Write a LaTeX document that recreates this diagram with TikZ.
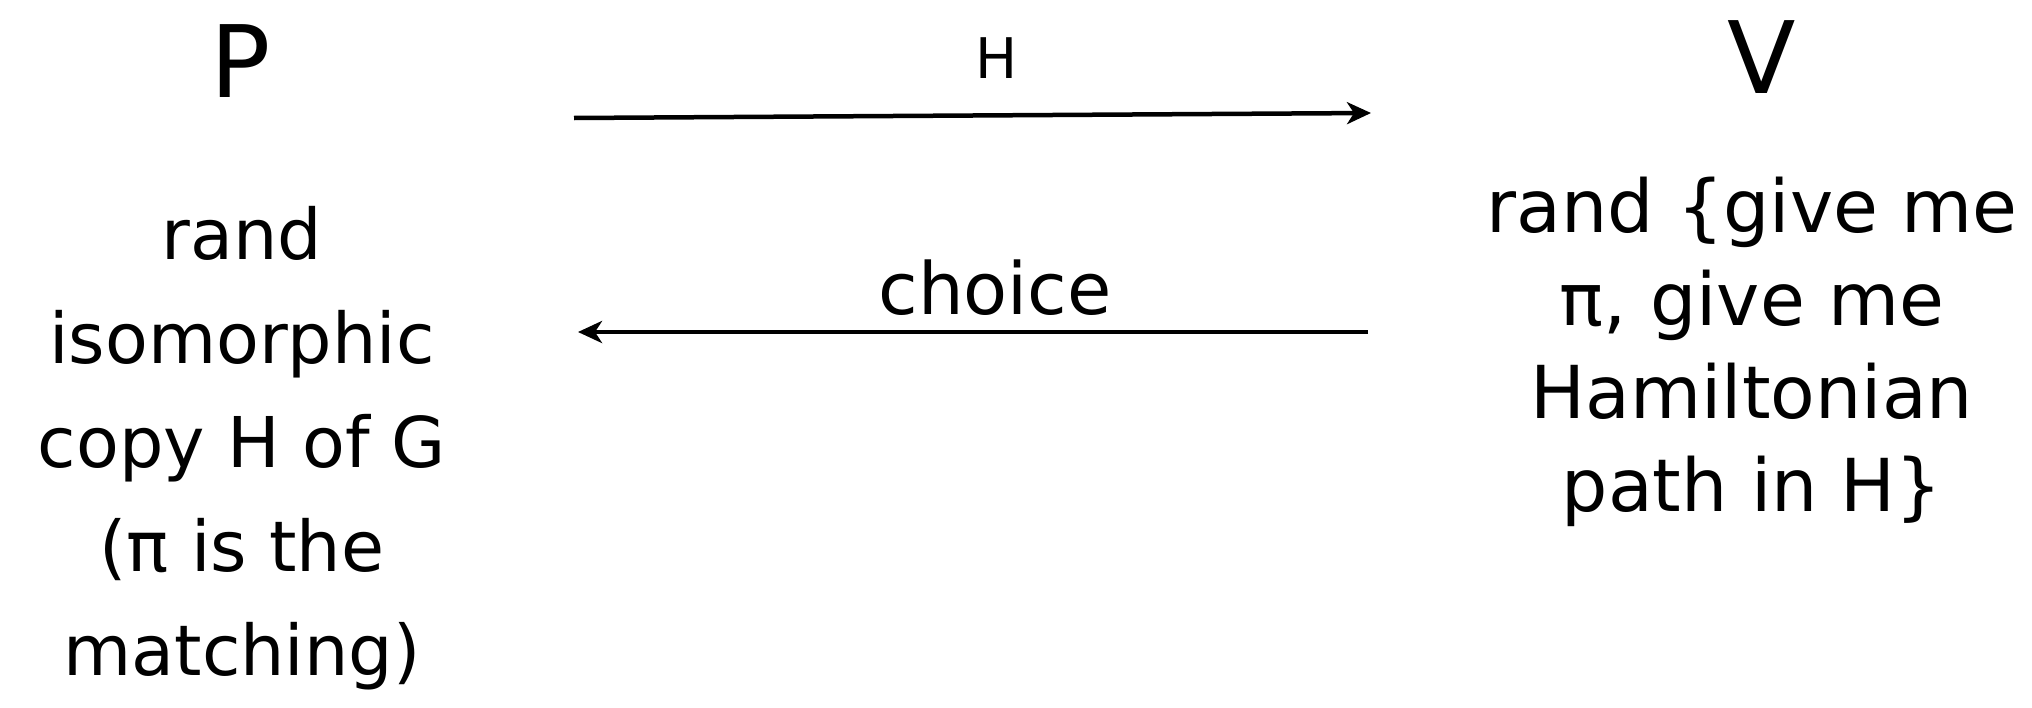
\documentclass[tikz,border=0pt]{standalone}
\usepackage{fontspec}
\setmainfont{DejaVu Sans}
\usetikzlibrary{arrows.meta}
\tikzset{
  txt/.style={anchor=base, inner sep=0pt, font=\fontsize{70}{80}\selectfont},
  rtxt/.style={anchor=base, inner sep=0pt, font=\fontsize{73}{80}\selectfont},
  big/.style={anchor=base, inner sep=0pt, font=\fontsize{100}{110}\selectfont},
  lbl/.style={anchor=base, inner sep=0pt},
  msg/.style={line width=4.5pt, -{Stealth[length=24pt,width=22pt,inset=7pt]}}
}
\begin{document}
\begin{tikzpicture}[x=1pt,y=1pt]
\useasboundingbox (0,0) rectangle (2032,-707);
% parties
\node[big] (P) at (241,-97) {P};
\node[big] (V) at (1762,-93) {V};
% prover text
\node[txt] (l1) at (242,-259) {rand};
\node[txt] (l2) at (242,-363) {isomorphic};
\node[txt] (l3) at (242,-467) {copy H of G};
\node[txt] (l4) at (242,-571) {(π is the};
\node[txt] (l5) at (242,-675) {matching)};
% verifier text
\node[rtxt] (r1) at (1752,-232) {rand \{give me};
\node[rtxt] (r2) at (1752,-325) {π, give me};
\node[rtxt] (r3) at (1752,-418) {Hamiltonian};
\node[rtxt] (r4) at (1752,-511) {path in H\}};
% messages
\coordinate (m1s) at (574,-118);
\coordinate (m1e) at (1371,-113);
\coordinate (m2s) at (1368,-332);
\coordinate (m2e) at (578,-332);
\draw[msg] (m1s) -- (m1e);
\draw[msg] (m2s) -- (m2e);
\node[lbl, font=\fontsize{56}{60}\selectfont] (hl) at (997,-78) {H};
\node[lbl, font=\fontsize{72}{80}\selectfont] (cl) at (995,-314) {choice};
\end{tikzpicture}
\end{document}
